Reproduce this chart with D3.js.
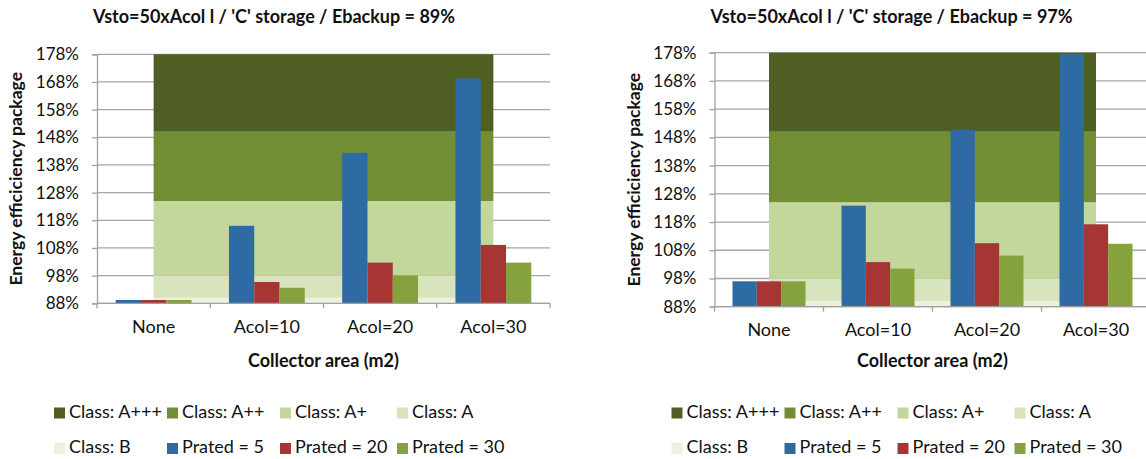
<!DOCTYPE html>
<html>
<head>
<meta charset="utf-8">
<script src="https://cdn.jsdelivr.net/npm/d3@7"></script>
<style>
  html, body { margin: 0; padding: 0; background: #fff; }
  svg { display: block; font-family: Lato, "Open Sans", sans-serif; }
</style>
</head>
<body>
<svg id="chart" width="1146" height="459"></svg>
<script>
// ---------- data ----------
const categories = ["None", "Acol=10", "Acol=20", "Acol=30"];
const seriesNames = ["Prated = 5", "Prated = 20", "Prated = 30"];
const seriesColors = ["#2e6aa3", "#a63533", "#86a23f"];

const titles = [
  "Vsto=50xAcol l / 'C' storage  / Ebackup = 89%",
  "Vsto=50xAcol l / 'C' storage  / Ebackup = 97%"
];

// left chart (Ebackup = 89%)
const left_p5  = [89.2, 116.0, 142.4, 169.3];
const left_p20 = [89.2, 95.7, 102.7, 109.1];
const left_p30 = [89.2, 93.6, 98.1, 102.7];

// right chart (Ebackup = 97%)
const right_p5  = [97.0, 123.8, 150.6, 177.4];
const right_p20 = [97.0, 103.8, 110.5, 117.2];
const right_p30 = [97.0, 101.5, 106.1, 110.3];

// energy class bands (stacked areas), bottom to top
const classNames  = ["Class: B", "Class: A", "Class: A+", "Class: A++", "Class: A+++"];
const classValues = [90, 8, 27, 25, 28];
const classColors = ["#ebf1de", "#d7e4bd", "#c3d69b", "#728e35", "#4f5f23"];

const yTicks = [88, 98, 108, 118, 128, 138, 148, 158, 168, 178];
const yDomain = [88, 178];

const yAxisTitle = "Energy efficiciency package";
const xAxisTitle = "Collector area (m2)";

// legend order: two rows of four
const legendItems = [
  { name: "Class: A+++", color: "#4f5f23" },
  { name: "Class: A++", color: "#728e35" },
  { name: "Class: A+", color: "#c3d69b" },
  { name: "Class: A", color: "#d7e4bd" },
  { name: "Class: B", color: "#ebf1de" },
  { name: "Prated = 5", color: "#2e6aa3" },
  { name: "Prated = 20", color: "#a63533" },
  { name: "Prated = 30", color: "#86a23f" }
];

// ---------- drawing ----------
const svg = d3.select("#chart");

function drawChart(cfg) {
  const g = svg.append("g");
  const x0 = d3.scaleBand().domain(categories).range([cfg.left, cfg.right]).paddingInner(0).paddingOuter(0);
  const cw = x0.bandwidth();
  const x1 = d3.scaleBand().domain(seriesNames).range([0, cw]).paddingInner(0).paddingOuter(0.74);
  const y = d3.scaleLinear().domain(yDomain).range([cfg.bottom, cfg.top]);

  // gridlines
  g.append("g").selectAll("line").data(yTicks).join("line")
    .attr("x1", cfg.left).attr("x2", cfg.right)
    .attr("y1", d => y(d)).attr("y2", d => y(d))
    .attr("stroke", "#a6a6a6").attr("stroke-width", 1.3);

  // class bands as stacked areas from first to last category centre
  const rows = categories.map(c => {
    const o = { cat: c };
    classNames.forEach((n, i) => o[n] = classValues[i]);
    return o;
  });
  const stack = d3.stack().keys(classNames)(rows);
  const area = d3.area()
    .x(d => x0(d.data.cat) + cw / 2)
    .y0(d => y(Math.max(d[0], yDomain[0])))
    .y1(d => y(Math.min(d[1], yDomain[1])));
  g.append("g").selectAll("path").data(stack).join("path")
    .attr("d", area)
    .attr("fill", (d, i) => classColors[i]);

  // bars
  const series = [cfg.p5, cfg.p20, cfg.p30];
  const barG = g.append("g");
  categories.forEach((c, ci) => {
    seriesNames.forEach((s, si) => {
      const v = series[si][ci];
      barG.append("rect")
        .attr("x", x0(c) + x1(s))
        .attr("width", x1.bandwidth())
        .attr("y", y(v))
        .attr("height", y(yDomain[0]) - y(v))
        .attr("fill", seriesColors[si]);
    });
  });

  // y axis
  const yAxis = d3.axisLeft(y).tickValues(yTicks).tickFormat(d => d + "%").tickSize(5).tickPadding(13);
  const ya = g.append("g").attr("transform", `translate(${cfg.left},0)`).call(yAxis);
  ya.select(".domain").attr("stroke", "#a0a0a0").attr("stroke-width", 1.3);
  ya.selectAll(".tick line").attr("stroke", "#a0a0a0").attr("stroke-width", 1.3);
  ya.selectAll(".tick text").attr("font-size", 17).attr("fill", "#111").attr("font-family", "Lato");

  // x axis: baseline with ticks at category boundaries
  const xa = g.append("g");
  xa.append("line").attr("x1", cfg.left).attr("x2", cfg.right)
    .attr("y1", cfg.bottom).attr("y2", cfg.bottom)
    .attr("stroke", "#a0a0a0").attr("stroke-width", 1.3);
  const bounds = categories.map(c => x0(c)).concat([cfg.right]);
  xa.selectAll("line.tk").data(bounds).join("line").attr("class", "tk")
    .attr("x1", d => d).attr("x2", d => d)
    .attr("y1", cfg.bottom).attr("y2", cfg.bottom + 5)
    .attr("stroke", "#a0a0a0").attr("stroke-width", 1.3);
  xa.selectAll("text").data(categories).join("text")
    .attr("x", d => x0(d) + cw / 2).attr("y", cfg.bottom + 25)
    .attr("text-anchor", "middle").attr("dominant-baseline", "middle")
    .attr("font-size", 18).attr("fill", "#111")
    .text(d => d);

  // titles
  g.append("text").attr("x", cfg.left + 177).attr("y", 18.5)
    .attr("text-anchor", "middle").attr("dominant-baseline", "middle")
    .attr("font-size", 18).attr("font-weight", "bold").attr("fill", "#111")
    .text(cfg.title);

  g.append("text").attr("x", (cfg.left + cfg.right) / 2).attr("y", 362)
    .attr("text-anchor", "middle").attr("dominant-baseline", "middle")
    .attr("font-size", 18).attr("font-weight", "bold").attr("fill", "#111")
    .text(xAxisTitle);

  g.append("text")
    .attr("transform", `translate(${cfg.left - 79},${(cfg.top + cfg.bottom) / 2}) rotate(-90)`)
    .attr("text-anchor", "middle").attr("dominant-baseline", "middle")
    .attr("font-size", 17.5).attr("font-weight", "bold").attr("fill", "#111")
    .text(yAxisTitle);

  // legend
  const colX = [-43, 70, 183, 300];
  const rowY = [413, 448.5];
  const lg = g.append("g");
  legendItems.forEach((it, i) => {
    const cx = cfg.left + colX[i % 4];
    const cy = rowY[Math.floor(i / 4)];
    lg.append("rect").attr("x", cx).attr("y", cy - 5.5).attr("width", 11).attr("height", 11).attr("fill", it.color);
    lg.append("text").attr("x", cx + 15).attr("y", cy)
      .attr("dominant-baseline", "middle").attr("font-size", 18).attr("fill", "#111")
      .text(it.name);
  });
}

drawChart({ left: 97, right: 550, top: 54.3, bottom: 303.3, title: titles[0],
            p5: left_p5, p20: left_p20, p30: left_p30 });
drawChart({ left: 714.5, right: 1150.5, top: 52.7, bottom: 306.7, title: titles[1],
            p5: right_p5, p20: right_p20, p30: right_p30 });
</script>
</body>
</html>
